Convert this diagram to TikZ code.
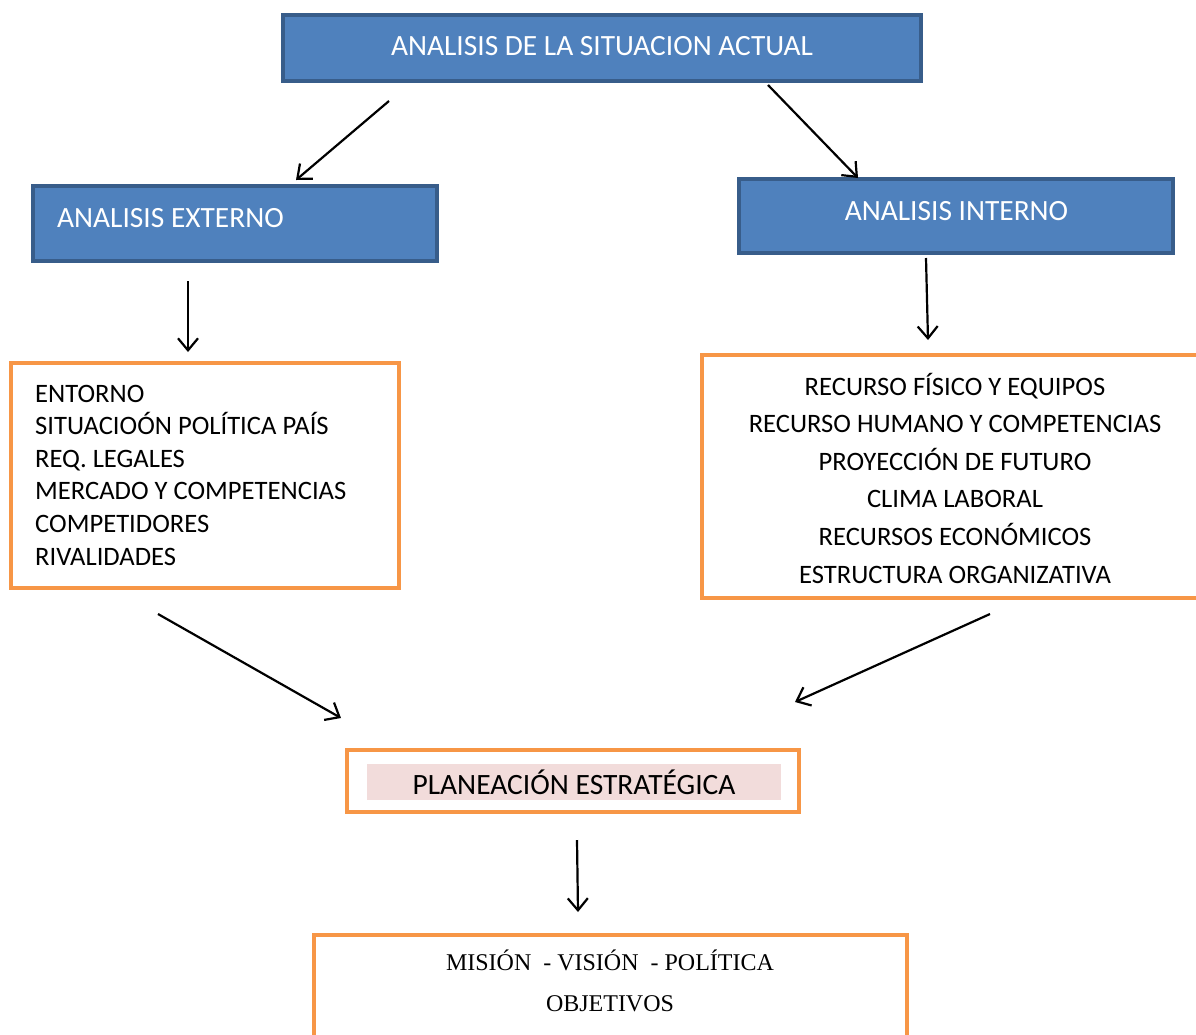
\documentclass[tikz,border=0pt]{standalone}
\usepackage{fontspec}
\setmainfont{Carlito}
\newfontfamily\serifrm{Liberation Serif}
\usetikzlibrary{arrows.meta}
\definecolor{bluefill}{HTML}{4F81BD}
\definecolor{blueline}{HTML}{385D8A}
\definecolor{orangeline}{HTML}{F79646}
\definecolor{pinkfill}{HTML}{F2DCDB}
\tikzset{
  bluebox/.style={draw=blueline, fill=bluefill, line width=4pt, inner sep=0pt},
  orangebox/.style={draw=orangeline, line width=4pt, inner sep=0pt},
  whitetxt/.style={text=white, font=\fontsize{29.4}{35}\selectfont, inner sep=0pt},
  blacktxt/.style={text=black, inner sep=0pt},
  arr/.style={line width=2.2pt, -{Straight Barb[length=12pt,width=20pt,line width=2.2pt]}}
}
\begin{document}
\begin{tikzpicture}[x=1pt,y=-1pt]
\useasboundingbox (0,0) rectangle (1196,1034);
% top box
\node[bluebox, minimum width=638pt, minimum height=66pt] (top) at (602,48) {};
\node[whitetxt] (toptxt) at (602,46) {ANALISIS DE LA SITUACION ACTUAL};
% externo
\node[bluebox, minimum width=404pt, minimum height=75pt] (ext) at (235,223.5) {};
\node[whitetxt, anchor=west] (exttxt) at (57,218) {ANALISIS EXTERNO};
% interno
\node[bluebox, minimum width=434pt, minimum height=74pt] (int) at (956,216) {};
\node[whitetxt] (inttxt) at (956.5,211) {ANALISIS INTERNO};
% left orange box
\draw[orangeline, line width=4pt] (11,363) rectangle (399,588);
\node[blacktxt, anchor=west, align=left, font=\fontsize{26.6}{32.6}\selectfont] (leftlist) at (35,475)
 {ENTORNO\\SITUACIOÓN POLÍTICA PAÍS\\REQ. LEGALES\\MERCADO Y COMPETENCIAS\\COMPETIDORES\\RIVALIDADES};
% right orange box
\draw[orangeline, line width=4pt] (702,355) rectangle (1202,598);
\node[blacktxt, align=center, font=\fontsize{26.6}{37.6}\selectfont] (rightlist) at (955,478)
 {RECURSO FÍSICO Y EQUIPOS\\RECURSO HUMANO Y COMPETENCIAS\\PROYECCIÓN DE FUTURO\\CLIMA LABORAL\\RECURSOS ECONÓMICOS\\ESTRUCTURA ORGANIZATIVA};
% planeacion
\node[orangebox, minimum width=452pt, minimum height=62pt] (plan) at (573,781) {};
\fill[pinkfill] (367,764) rectangle (781,800);
\node[blacktxt, font=\fontsize{29.5}{35}\selectfont] (plantxt) at (574,782) {PLANEACIÓN ESTRATÉGICA};
% bottom box
\draw[orangeline, line width=4pt] (314,935) rectangle (907,1040);
\node[blacktxt, align=center, font=\serifrm\fontsize{24}{41}\selectfont] (bottxt) at (610,981)
 {MISIÓN~~- VISIÓN~~- POLÍTICA\\OBJETIVOS};
% arrow endpoints
\coordinate (a1s) at (389,101); \coordinate (a1e) at (296,180);
\coordinate (a2s) at (768,85);  \coordinate (a2e) at (858,178);
\coordinate (a3s) at (188,281); \coordinate (a3e) at (188,352);
\coordinate (a4s) at (926,258); \coordinate (a4e) at (928,340);
\coordinate (a5s) at (158,614); \coordinate (a5e) at (341,718);
\coordinate (a6s) at (990,614); \coordinate (a6e) at (795,702);
\coordinate (a7s) at (577,840); \coordinate (a7e) at (578,912);
\draw[arr] (a1s) -- (a1e);
\draw[arr] (a2s) -- (a2e);
\draw[arr] (a3s) -- (a3e);
\draw[arr] (a4s) -- (a4e);
\draw[arr] (a5s) -- (a5e);
\draw[arr] (a6s) -- (a6e);
\draw[arr] (a7s) -- (a7e);
\end{tikzpicture}
\end{document}
